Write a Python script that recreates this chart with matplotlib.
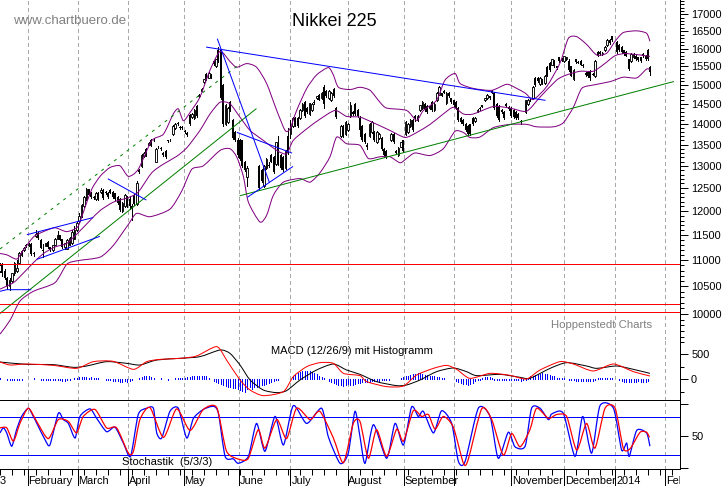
import numpy as np
import matplotlib
matplotlib.use("Agg")
import matplotlib.pyplot as plt
from matplotlib.path import Path
from matplotlib.patches import PathPatch
from matplotlib.ticker import MultipleLocator, FixedLocator, FuncFormatter, NullFormatter

plt.rcParams['font.family'] = ['Liberation Sans', 'DejaVu Sans']
n = float('nan')

opens = [
10800,10900,10800,10650,10500,10600,10750,10800,10950,11100,11200,
11300,11300,11320,11150,11480,11550,11400,11200,11280,11350,11250,11200,11300,11430,11500,11420,11250,11220,11300,11330,11430,
11600,11780,11900,12100,12250,12470,12400,12300,12260,12400,12420,12450,12420,12400,12450,12420,12380,12300,12250,12000,12100,
12300,12250,12100,12350,12150,12900,13000,13220,13400,13500,13620,13600,13100,13450,13420,13300,13350,13600,13620,13750,13900,14020,13930,
13920,13820,13780,14230,14180,14150,14450,14700,14850,15080,15300,15200,15280,15650,15500,15950,15950,15000,14000,14050,14550,14100,13800,
13600,13620,13600,13100,12750,n,n,n,n,13000,12900,12550,12950,13020,13250,13200,13050,13500,13250,13200,12950,13700,
13750,13950,14150,14150,14150,14350,14550,14400,14250,14350,14560,14650,14750,14650,14950,14850,14650,14600,14900,14400,n,13700,13950,13750,
13850,14200,14300,14500,14350,14150,13950,13750,13500,13700,13800,13800,13550,13650,13650,13400,13350,n,13600,13750,13350,13250,13450,
13600,13750,13800,13950,14100,14200,14100,14340,14400,14500,14450,14400,14550,14350,14600,14750,14780,14850,14520,14800,14650,
14600,14550,14400,14150,14100,14000,13950,13990,14150,14080,14330,14400,14470,14600,14650,14700,14850,14800,14500,14450,14350,14300,14500,14430,
14400,14350,14300,14250,14080,n,14300,14500,14610,14650,15200,15200,15020,15150,15050,15480,15600,15550,15650,15500,15750,15680,
15650,15700,15650,15500,15150,15700,15620,15650,15550,15330,15350,15380,15300,15230,15900,15900,15850,15950,16100,16250,16350,
n,16200,16100,16050,15950,15900,15700,15650,15750,15800,15750,15750,15850,15800,15950,15480]

closes = [
10900,10750,10650,10500,10620,10750,10950,10850,11150,11180,11230,
11280,11320,11120,11130,11520,11450,11240,11180,11330,11260,11200,11290,11420,11500,11400,11250,11330,11400,11440,11560,11600,
11750,11900,12120,12300,12480,12350,12300,12270,12400,12250,12460,12280,12380,12300,12400,12300,12250,12170,12020,12180,12350,
12100,12100,12050,12150,12620,12850,13250,13300,13250,13530,13480,13620,13400,13430,13400,13250,13200,13580,13600,13950,14000,14000,13900,
13900,13800,13720,13990,14250,14350,14200,14750,14900,15150,15150,15320,15200,15570,15700,15650,14650,14000,14480,14400,14350,13650,13600,
13250,13150,13000,12900,12950,n,n,n,n,12500,12650,13000,13150,13000,13100,12850,13550,13050,12950,12900,13350,13300,
13950,14150,13980,13950,14350,14500,14200,14300,14520,14500,14530,14700,14620,14800,14500,14700,14850,14800,14700,14170,n,13950,13700,14050,
14000,14480,14250,14250,14200,13850,13600,13550,13450,14000,14050,13600,13800,13750,13400,13250,13230,n,13750,13550,13300,13420,13550,
13350,14050,14000,14100,13850,14150,14200,14470,14550,14350,14300,14450,14350,14500,14800,14950,14720,14800,14800,14700,14550,
14470,14400,14100,14050,14000,13850,13750,13750,14000,14150,14350,14380,14440,14650,14750,14650,14800,14400,14200,14100,14300,14150,14450,14380,
14200,14180,14150,14150,14050,n,14600,14620,14600,14950,15000,15100,15200,15050,15250,15250,15400,15700,15500,15450,15650,15720,
15780,15750,15400,15250,15400,15620,15610,15550,15500,15270,15230,15180,15280,15650,15800,15850,15870,16050,16250,16150,16250,
n,15900,15950,15900,15850,15800,15430,15850,15850,15700,15680,15650,15780,15700,15700,15360]

highs = [
10950,10950,10820,10680,10650,10760,10970,11000,11170,11200,11260,
11320,11340,11330,11160,11600,11570,11420,11320,11340,11380,11260,11300,11440,11590,11510,11430,11340,11420,11460,11600,11680,
11800,11950,12150,12320,12500,12480,12420,12320,12420,12420,12500,12470,12440,12420,12470,12440,12400,12320,12270,12200,12370,
12320,12320,12150,12370,12650,12920,13270,13330,13420,13560,13640,13650,13420,13460,13430,13320,13370,13620,13640,13970,14020,14060,13950,
13940,13840,13800,14250,14270,14370,14470,14770,14920,15170,15320,15340,15300,15670,15720,16050,16000,15020,14500,14420,14570,14120,13820,
13650,13640,13620,13120,13000,n,n,n,n,13020,12920,13020,13170,13080,13270,13220,13570,13700,13270,13220,13370,13900,
14100,14170,14170,14170,14370,14520,14570,14420,14540,14520,14600,14720,14770,14820,15000,14870,14870,14820,14920,14420,n,13970,13970,14070,
14020,14550,14320,14520,14370,14200,13970,13770,13530,14020,14070,13820,13820,13770,13670,13420,13370,n,13770,13770,13370,13440,13570,
13620,14070,14020,14120,14120,14220,14220,14490,14570,14520,14470,14470,14570,14520,14820,14970,14800,14870,14820,14820,14670,
14620,14570,14420,14170,14120,14020,13970,14010,14170,14170,14370,14420,14490,14670,14770,14720,14870,14820,14520,14470,14370,14320,14520,14450,
14420,14370,14320,14270,14100,n,14620,14640,14630,14970,15220,15220,15220,15170,15270,15500,15620,15720,15670,15520,15770,15740,
15800,15770,15700,15520,15420,15720,15640,15670,15570,15350,15370,15400,15320,15670,15920,15920,15890,16070,16270,16270,16370,
n,16230,16120,16070,15970,15920,15720,15870,15870,15820,15770,15770,15870,15820,16000,15500]

lows = [
10780,10700,10640,10450,10440,10580,10720,10780,10930,11080,11180,
11250,11280,11100,11080,11470,11420,11230,11060,11270,11240,11180,11190,11290,11420,11390,11240,11210,11210,11290,11320,11420,
11580,11760,11880,12080,12230,12340,12280,12250,12240,12230,12400,12260,12360,12280,12380,12280,12230,12150,12000,11980,12080,
12080,12050,11820,12130,12130,12830,12980,13200,13230,13480,13460,13580,13080,13410,13380,13230,13180,13560,13580,13730,13880,13980,13880,
13880,13780,13700,13970,14160,14130,14180,14680,14830,15060,15130,15180,15180,15550,15480,15630,14630,13950,13980,14030,14330,13630,13580,
13200,13130,12980,12880,12550,n,n,n,n,12480,12630,12530,12930,12980,13080,12830,13030,13030,12930,12880,12930,13280,
13650,13930,13960,13930,14130,14330,14180,14280,14230,14330,14510,14630,14600,14630,14400,14680,14630,14580,14680,14150,n,13680,13680,13730,
13830,14180,14230,14230,14180,13700,13580,13530,13400,13680,13780,13580,13530,13630,13380,13200,13170,n,13580,13530,13280,13230,13430,
13330,13730,13780,13930,13830,14080,14080,14320,14380,14330,14280,14380,14330,14330,14580,14730,14700,14780,14500,14680,14530,
14450,14380,14080,14030,13980,13830,13730,13730,13980,14060,14310,14360,14420,14580,14630,14630,14780,14380,14180,14080,14280,14130,14430,14360,
14180,14160,14130,14130,14000,n,14280,14480,14580,14630,14980,15080,15000,15030,15030,15230,15380,15530,15480,15430,15630,15660,
15630,15680,15380,15230,15130,15600,15590,15530,15480,15250,15210,15130,15260,15210,15780,15830,15830,15930,16080,16130,16230,
n,15880,15930,15880,15830,15780,15410,15630,15730,15680,15660,15630,15760,15680,15680,15280]

hist_vals = [
10,0,0,-10,-15,-20,-20,-20,-20,-20,0,
0,0,0,10,0,-5,-10,-10,-15,-15,-15,-20,-20,-25,-25,-30,-30,-20,-10,0,10,
20,30,30,40,35,20,25,15,10,5,0,0,-20,-20,-25,-30,-35,-40,-50,-60,-40,
-60,-40,-20,0,0,20,40,45,50,45,30,15,0,0,10,0,0,-10,0,0,15,10,10,
15,20,30,40,45,45,50,50,55,55,50,20,0,-30,-60,-80,-100,-120,-130,-150,-160,-170,-180,
-200,-220,-240,-250,-200,-160,-200,-150,-150,-140,-120,-110,-100,-80,-60,-40,-20,-20,0,0,0,0,
0,60,80,110,130,150,160,160,150,130,110,100,60,40,20,0,-40,-60,-80,-100,-110,-120,-130,-120,
-100,-110,-120,-100,-80,-70,-60,-60,-50,-50,-40,-40,-30,-30,-20,-10,-10,-10,0,0,0,0,10,
40,60,60,70,90,100,110,110,100,80,70,60,55,50,40,30,20,10,0,0,0,
0,-30,-50,-70,-90,-100,-110,-90,-70,-40,-20,-10,10,30,40,30,10,-10,-15,-20,-25,-20,-15,-15,
-15,-10,-15,-20,-30,-25,-10,20,50,60,70,90,100,110,100,90,70,60,50,20,20,10,
10,0,-10,-15,-25,-30,-30,-30,-35,-40,-40,-30,-30,-10,10,20,20,10,20,20,10,
0,0,-20,-40,-50,-50,-50,-50,-50,-50,-45,-50,-50,-50,-40]

upper_x = [0,2.8,6.9,9,13.9,18.1,22.9,27.8,32.4,34.7,38.2,41.7,45.8,50,53.5,57.6,63.2,68.1,72.2,74.3,76.4,79.2,83.3,87.5,91.7,95.8,98.6,102.8,106.9,111.1,115.3,118.8,120.8,123.6,127.8,131.9,136.8,138.9,141,145.8,150,154.2,158.3,161.1,169.4,173.6,176.4,181.9,185.4,189.6,191.7,197.2,204.9,211.1,215.3,219,222.2,227.8,233.3,236.8,240.3,244.4,248.6,252.8,256.3,259.7,265.3,269.4,270.8]
upper_v = [11130,11105,11020,11150,11460,11570,11650,11570,11670,11970,12470,12760,12960,13000,12760,12920,13590,13750,14250,14380,14080,14290,14680,15400,15920,15640,15480,15580,15480,15040,14340,13840,13880,14340,14910,15270,15470,15270,14940,14880,14940,14860,14550,14400,14340,14090,14340,14600,15130,15310,15040,14910,14860,15020,14910,14780,14620,14960,15590,16290,16340,16120,15820,15870,16210,16460,16510,16440,16210]
upper_v = upper_v[:len(upper_x)]
upper_x = upper_x[:len(upper_v)]
mid_x = [0,5.6,9.7,13.9,18.1,22.9,27.8,32.4,37.5,41.7,47.2,53.5,57.6,63.2,68.1,73.6,77.8,83.3,87.5,91.7,95.8,100,104.2,109.7,115.3,119.4,122.2,127.8,133.3,139.6,144.4,150,155.6,162.5,168.8,173.6,179.2,184.7,188.9,193.1,197.2,205.6,212.5,219.4,225,231.9,236.1,241.7,247.2,251.4,256.3,261.1,270.8]
mid_v = [10450,10570,10750,10950,11130,11260,11330,11540,11800,12010,12190,12290,12410,12840,13040,13220,13420,13840,14250,14550,14510,14170,13840,13600,13360,13280,13600,13880,14120,14340,14190,14170,14030,13840,13670,13790,13990,14250,14420,14250,14250,14440,14400,14320,14680,15130,15270,15370,15370,15550,15800,15860,15780]
lower_x = [0,4.2,8.3,13.9,22.9,27.8,32.4,41.7,47.2,53.5,56.9,62.5,70.8,75.7,79.9,84.7,91.7,95.8,98.6,101.4,103.5,108.3,111.1,113.9,118.1,125,129.2,133.3,137.5,140.3,144.4,150,153.5,158.3,162.5,166.7,169.4,172.9,179.2,184.7,189.6,193.1,195.8,200,205.6,212.5,219.4,223.6,230.6,234.7,238.9,242.4,247.2,254.2,259.7,265.3,269.4,270.8]
lower_v = [9650,9890,10230,10410,10570,10920,10990,11060,11290,11720,11950,11880,12040,12430,12920,13000,13360,13400,13210,12760,12190,11770,11910,12340,12630,12710,12630,12840,13210,13680,13520,13480,13170,13210,13210,13070,13170,13300,13240,13400,13820,13790,13670,13680,13910,13990,13990,13930,13930,14030,14420,14910,15000,15090,15210,15190,15430,15410]

support_levels = [10935, 10170, 10030]

green_dashed = ([0, 98.6], [11220, 15500])
green_lines = [([0, 106.7], [10010, 14380]), ([100, 280.6], [12330, 15090])]
blue_lines = [([86.1, 227.1], [16040, 14600]), ([90.6, 112.2], [16270, 12630]),
              ([98.9, 121.5], [13790, 13300]), ([103.2, 121.9], [12300, 12980]),
              ([11.4, 38.6], [11510, 11860]), ([15.6, 41.4], [11020, 11470]),
              ([0, 2.8, 12.8], [10410, 10440, 10440]), ([45.1, 60.8], [12700, 12240])]

macd_x = [0,11.1,22.2,30.6,36.1,44.4,52.8,58.3,65.3,75,83.3,91.7,95.8,100,104.2,109.7,115.3,119.4,125,131.9,138.9,144.4,150,156.9,165.3,169.4,175,181.9,188.9,194.4,198.6,208.3,216.7,220.8,229.2,236.1,244.4,248.6,256.9,263.9,270.8]
macd_signal = [340,293,287,233,260,347,313,280,380,413,447,580,513,280,-20,-220,-273,-233,-20,180,300,180,93,-53,-133,-120,-20,147,220,147,67,93,33,13,213,327,260,213,260,193,113]
macd_x2 = [0,4.2,11.1,22.2,31.9,38.9,47.2,55.6,61.1,66.7,75,81.9,90.3,94.4,100,104.2,109.7,118.1,122.2,127.8,133.3,138.9,143.1,150,152.8,161.1,168.1,173.6,180.6,186.1,190.3,195.8,204.2,212.5,219.4,225,233.3,238.9,247.2,255.6,263.9,270.8]
macd_line = [340,280,300,273,213,347,353,193,347,393,413,460,647,380,-20,-220,-333,-253,47,247,327,313,113,67,-53,-153,-140,80,213,273,193,13,113,73,0,180,347,300,160,300,147,60]

k_x = [0,1.4,2.8,4.9,6.9,9,11.8,13.9,16,18.8,20.8,24.3,26.4,28.5,31.3,33.3,37.5,40.3,44.4,47.9,51.4,54.4,57.6,61.1,63.9,65.3,67.4,70.8,74.3,77.8,80.6,84.7,88.9,91,93.8,97.2,99.3,103.5,106.9,110.4,114.6,118.1,122.2,127.8,134,136.8,141.7,145.1,147.9,150,
       152.1,155.6,161.1,164.6,168.1,171.5,174.3,176.4,180.6,184,188.2,191,193.8,199.3,204.2,207.6,211.8,214.6,218.8,221.5,225,228.5,229.9,234.7,239.6,242.8,246.5,250,255.6,259,261.1,262.2,265.3,269.4,270.8]
k_v = [55,63,55,34,60,81,94,81,65,44,36,86,76,70,47,81,93,78,57,64,39,18,84,94,94,55,47,89,94,47,78,92,97,86,18,14,7,18,70,26,81,36,98,70,94,49,7,23,89,49,
       7,68,15,70,36,96,81,89,55,90,70,10,10,94,81,15,56,33,34,94,94,76,85,86,18,81,23,98,94,28,39,18,59,55,34]
d_x = [0,2.8,5.6,8.3,11.8,15.3,20.1,24.3,28.5,31.9,34.7,39.6,44.4,48.6,53.5,55.6,58.3,62.5,68.1,73.6,79.2,84.7,90.3,94.4,100,103.5,107.6,110.4,115.3,119.4,123.6,129.2,133.3,138.9,143.1,147.2,150,
       153.5,156.9,161.1,165.3,168.1,172.2,175.7,178.5,181.3,184.7,188.9,193.1,195.1,200.7,204.9,209.7,213.2,216.7,220.8,223.6,228.5,231.9,236.1,240.3,244.4,247.9,252.1,256.3,259.7,262.5,266.7,269.4,270.6]
d_v = [63,63,42,70,94,73,46,76,73,55,81,92,63,63,23,26,76,95,48,93,59,92,95,26,13,15,60,31,76,46,94,76,89,47,8,70,73,
       15,60,18,61,42,90,81,84,61,81,64,7,13,93,76,20,54,33,60,94,78,84,81,28,70,31,94,94,31,30,56,56,48]

month_pos = [11.5, 32.3, 53.5, 76.5, 99.4, 121, 144.8, 168.3, 189.2, 212.9, 235, 256.3, 277.1]
month_labels = ['February','March','April','May','June','July','August','September','','November','December','2014','Feb']

W, H = 723, 486
PX = 2.4
LW = 0.72
fig = plt.figure(figsize=(W/100, H/100), dpi=100, facecolor='white')

def smooth(a, xs, vs, color, z, lw=LW):
    """Draw a curve through the read points as one Bezier path (no added data)."""
    pts = np.column_stack([xs, vs]).astype(float)
    if a.get_yscale() == 'log':
        pts[:, 1] = np.log(pts[:, 1])
    # tangents in a locally scaled space so steep sections do not overshoot
    p = np.vstack([pts[0], pts, pts[-1]])
    verts, codes = [pts[0]], [Path.MOVETO]
    k = 0.12
    for i in range(1, len(p) - 2):
        c1 = p[i] + (p[i+1] - p[i-1]) * k
        c2 = p[i+1] - (p[i+2] - p[i]) * k
        verts += [c1, c2, p[i+1]]
        codes += [Path.CURVE4] * 3
    v = np.array(verts)
    if a.get_yscale() == 'log':
        v[:, 1] = np.exp(v[:, 1])
    a.add_patch(PathPatch(Path(v, codes), fc='none', ec=color, lw=lw, zorder=z))

def mk(top, bottom):
    a = fig.add_axes([0, 1-bottom/H, 680/W, (bottom-top)/H])
    a.set_xlim(0, 680/PX)
    for s in ('top','left','bottom'):
        a.spines[s].set_visible(False)
    a.spines['right'].set_linewidth(LW)
    a.yaxis.tick_right()
    a.tick_params(axis='x', which='both', bottom=False, labelbottom=False)
    a.tick_params(axis='y', which='major', length=6, width=LW, labelsize=7.9, pad=2)
    a.tick_params(axis='y', which='minor', length=3, width=LW)
    for m in month_pos:
        a.axvline(m, color='#a8a8a8', lw=LW, ls=(0,(3,3)), zorder=0, antialiased=False)
    a.patch.set_alpha(0)
    return a

ax = mk(0, 340)
ax.set_yscale('log')
ax.set_ylim(9550, 17437)
ax.yaxis.set_major_locator(MultipleLocator(500))
ax.yaxis.set_minor_locator(MultipleLocator(100))
ax.yaxis.set_major_formatter(FuncFormatter(lambda v, p: f'{int(v)}'))
ax.yaxis.set_minor_formatter(NullFormatter())

# candlesticks
O, C, Hi, Lo = map(lambda a: np.array(a, float), (opens, closes, highs, lows))
x = np.arange(len(O))
ax.vlines(x, Lo, Hi, color='black', lw=LW, zorder=2, antialiased=False)
up = C > O
dn = C <= O
ax.bar(x[up], (C-O)[up], bottom=O[up], width=0.7, facecolor='white', edgecolor='black', lw=LW*0.9, zorder=3)
ax.bar(x[dn], (O-C)[dn], bottom=C[dn], width=0.8, facecolor='black', edgecolor='none', lw=0, zorder=3)

PUR = '#800080'
for xs, vs in ((upper_x, upper_v), (mid_x, mid_v), (lower_x, lower_v)):
    smooth(ax, xs, vs, PUR, 4)
for lvl in support_levels:
    ax.axhline(lvl, color='#ff0000', lw=LW, zorder=5, antialiased=False)
ax.plot(*green_dashed, color='#008000', lw=LW, ls=(0,(3,5)), zorder=4)
for xs, vs in green_lines:
    ax.plot(xs, vs, color='#008000', lw=LW, zorder=4)
for xs, vs in blue_lines:
    ax.plot(xs, vs, color='#0000ff', lw=LW, zorder=5)

# MACD
am = mk(340, 400)
am.set_ylim(-420, 780)
am.yaxis.set_major_locator(FixedLocator([0, 500]))
am.yaxis.set_minor_locator(MultipleLocator(250))
am.spines['bottom'].set_visible(True)
am.spines['bottom'].set_linewidth(LW)
hx = np.arange(len(hist_vals))
hv = np.array(hist_vals, float)
am.vlines(hx, np.minimum(hv, 0), np.maximum(hv, 0)+6, color='#0000ff', lw=LW*0.9, zorder=2, antialiased=False)
smooth(am, macd_x, macd_signal, 'black', 3)
smooth(am, macd_x2, macd_line, '#ff0000', 4)

# Stochastik
ast = mk(400, 469)
ast.set_ylim(-2, 107)
ast.yaxis.set_major_locator(FixedLocator([50]))
ast.yaxis.set_minor_locator(FixedLocator([0, 100]))
ast.tick_params(axis='y', which='minor', length=6)
ast.spines['bottom'].set_visible(True)
ast.spines['bottom'].set_linewidth(LW)
for lvl in (80, 20):
    ast.axhline(lvl, color='#0000ff', lw=LW, zorder=2, antialiased=False)
smooth(ast, k_x, k_v, '#0000ff', 3, lw=0.9)
smooth(ast, d_x, d_v, '#ff0000', 4, lw=0.9)

# Date strip
ad = fig.add_axes([0, 0, 680/W, (H-469)/H])
ad.set_xlim(0, 680/PX)
ad.set_ylim(0, 1)
for s in ('top','left','bottom','right'):
    ad.spines[s].set_visible(False)
ad.yaxis.set_visible(False)
ad.patch.set_alpha(0)
ad.xaxis.set_ticks_position('top')
ad.set_xticks(np.arange(0, 284, 5), minor=True)
ad.set_xticks([])
ad.tick_params(axis='x', which='minor', direction='in', length=4, width=LW, top=True, labeltop=False)
ad.vlines(month_pos, 0, 1, color='black', lw=LW, antialiased=False)
for m, lab in zip(month_pos, month_labels):
    if lab:
        ad.text(m+0.4, 0.27, lab, fontsize=7.9, ha='left', va='center', clip_on=True)
ad.text(0, 0.27, '3', fontsize=7.9, ha='left', va='center')

def txt(px, py, s, **k):
    fig.text(px/W, 1-py/H, s, va='center', **k)
txt(13, 20.5, 'www.chartbuero.de', fontsize=9.5, color='#808080')
txt(292, 21, 'Nikkei 225', fontsize=13, color='black')
txt(551, 325, 'Hoppenstedt Charts', fontsize=8.2, color='#808080')
txt(271, 351, 'MACD (12/26/9) mit Histogramm', fontsize=8, color='black')
txt(122, 462, 'Stochastik  (5/3/3)', fontsize=8, color='black')

fig.savefig('out.png', dpi=100, facecolor='white')
